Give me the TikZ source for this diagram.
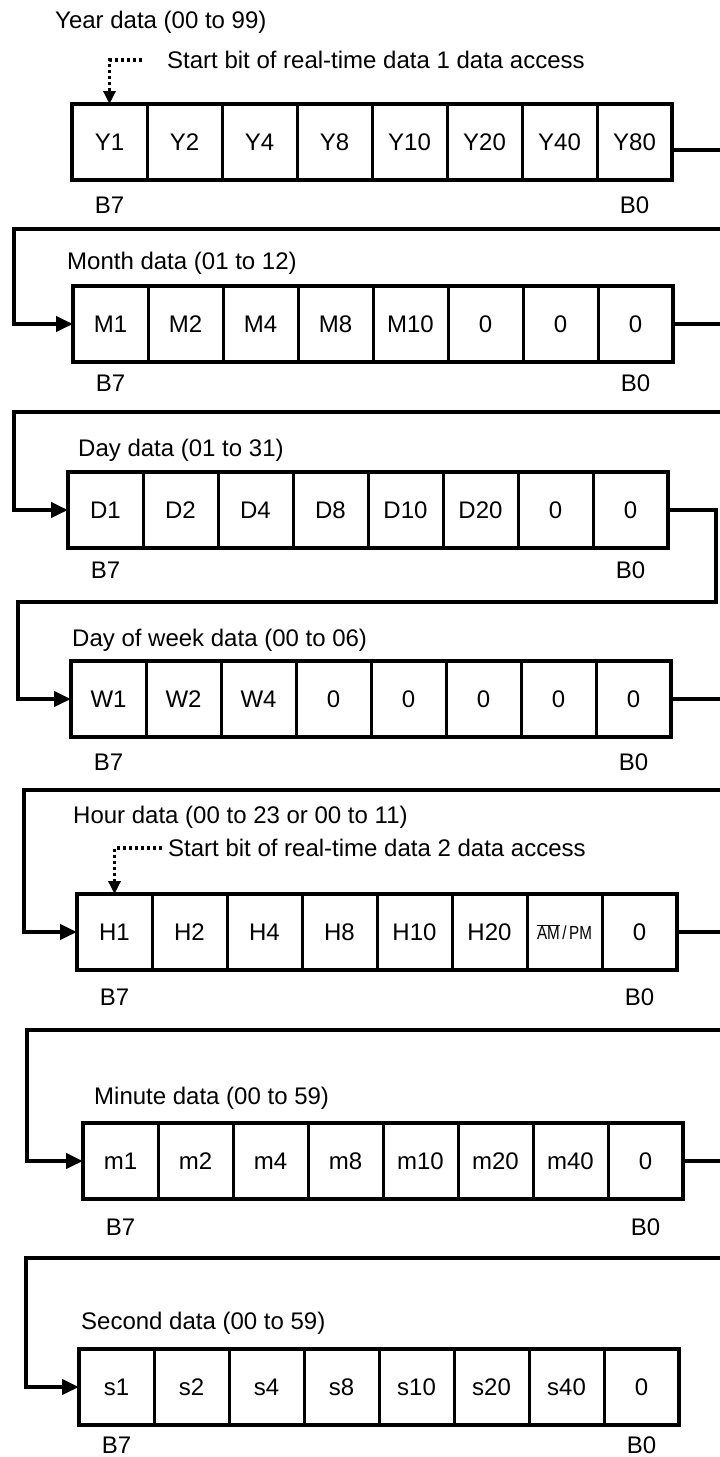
\documentclass[tikz,border=0pt]{standalone}
\usepackage{fontspec}
\setmainfont{Liberation Sans}
\usetikzlibrary{arrows.meta}
\newcommand{\ampm}{{\fontsize{19}{22}\selectfont\scalebox{0.8}[1]{$\overline{\mbox{AM}}$\,/\,PM}}}
\begin{document}
\begin{tikzpicture}[x=1pt,y=-1pt,
    cell/.style={draw,line width=3pt,minimum width=75pt,minimum height=76pt,inner sep=0pt,outer sep=0pt,font=\fontsize{24}{28}\selectfont},
    frame/.style={draw,line width=4.5pt},
    wire/.style={line width=4pt,-{Triangle[length=17pt,width=15pt]}},
    hint/.style={line width=3.5pt,dash pattern=on 3pt off 3pt,-{Triangle[length=13pt,width=12pt]}},
    caption/.style={anchor=west,inner sep=0pt,font=\fontsize{24}{28}\selectfont},
    bit/.style={inner sep=0pt,font=\fontsize{24}{28}\selectfont},
  ]
    \useasboundingbox (0,0) rectangle (720,1457);
    \clip (0,0) rectangle (720,1457);
    % one register per row, B7 on the left, B0 on the right
    \foreach \t [count=\i] in {Y1,Y2,Y4,Y8,Y10,Y20,Y40,Y80}
      \node[cell] (y\i) at (34.5+75*\i,142) {\t};
    \foreach \t [count=\i] in {M1,M2,M4,M8,M10,0,0,0}
      \node[cell] (mo\i) at (35.5+75*\i,324) {\t};
    \foreach \t [count=\i] in {D1,D2,D4,D8,D10,D20,0,0}
      \node[cell] (d\i) at (30.5+75*\i,510) {\t};
    \foreach \t [count=\i] in {W1,W2,W4,0,0,0,0,0}
      \node[cell] (w\i) at (33.5+75*\i,699) {\t};
    \foreach \t [count=\i] in {H1,H2,H4,H8,H10,H20,\ampm,0}
      \node[cell] (h\i) at (39.5+75*\i,932) {\t};
    \foreach \t [count=\i] in {m1,m2,m4,m8,m10,m20,m40,0}
      \node[cell] (mi\i) at (45.5+75*\i,1161) {\t};
    \foreach \t [count=\i] in {s1,s2,s4,s8,s10,s20,s40,0}
      \node[cell] (s\i) at (41.5+75*\i,1387) {\t};
    \foreach \r in {y,mo,d,w,h,mi,s}
      \draw[frame] (\r1.north west) rectangle (\r8.south east);

    \node[caption] (yearlbl) at (55,22) {Year data (00 to 99)};
    \node[caption] (start1) at (167,60) {Start bit of real-time data 1 data access};
    \node[caption] (monthlbl) at (67,263) {Month data (01 to 12)};
    \node[caption] (daylbl) at (78,450) {Day data (01 to 31)};
    \node[caption] (weeklbl) at (72,640) {Day of week data (00 to 06)};
    \node[caption] (hourlbl) at (73,817) {Hour data (00 to 23 or 00 to 11)};
    \node[caption] (start2) at (168,848) {Start bit of real-time data 2 data access};
    \node[caption] (minlbl) at (94,1098) {Minute data (00 to 59)};
    \node[caption] (seclbl) at (81,1323) {Second data (00 to 59)};

    \node[bit] (yb7) at ([yshift=-25pt]y1.south) {B7};
    \node[bit] (yb0) at ([yshift=-25pt]y8.south) {B0};
    \node[bit] (mob7) at ([yshift=-21pt]mo1.south) {B7};
    \node[bit] (mob0) at ([yshift=-21pt]mo8.south) {B0};
    \node[bit] (db7) at ([yshift=-22pt]d1.south) {B7};
    \node[bit] (db0) at ([yshift=-22pt]d8.south) {B0};
    \node[bit] (wb7) at ([yshift=-25pt]w1.south) {B7};
    \node[bit] (wb0) at ([yshift=-25pt]w8.south) {B0};
    \node[bit] (hb7) at ([yshift=-27pt]h1.south) {B7};
    \node[bit] (hb0) at ([yshift=-27pt]h8.south) {B0};
    \node[bit] (mib7) at ([yshift=-28pt]mi1.south) {B7};
    \node[bit] (mib0) at ([yshift=-28pt]mi8.south) {B0};
    \node[bit] (sb7) at ([yshift=-20pt]s1.south) {B7};
    \node[bit] (sb0) at ([yshift=-20pt]s8.south) {B0};

    \draw[hint] ([xshift=-25pt]start1.west) -| (y1.north);
    \draw[hint] ([xshift=-6pt]start2.west) -| (h1.north);

    \draw[wire] ([yshift=-8pt]y8.east) -| (724,229) -- (14,229) |- (mo1.west);
    \draw[wire] (mo8.east) -| (724,412) -- (14,412) |- (d1.west);
    \draw[wire] (d8.east) -| (716,602) -- (18,602) |- (w1.west);
    \draw[wire] (w8.east) -| (724,790) -- (24,790) |- (h1.west);
    \draw[wire] (h8.east) -| (724,1030) -- (27,1030) |- (mi1.west);
    \draw[wire] (mi8.east) -| (724,1258) -- (26,1258) |- (s1.west);
  \end{tikzpicture}
\end{document}
